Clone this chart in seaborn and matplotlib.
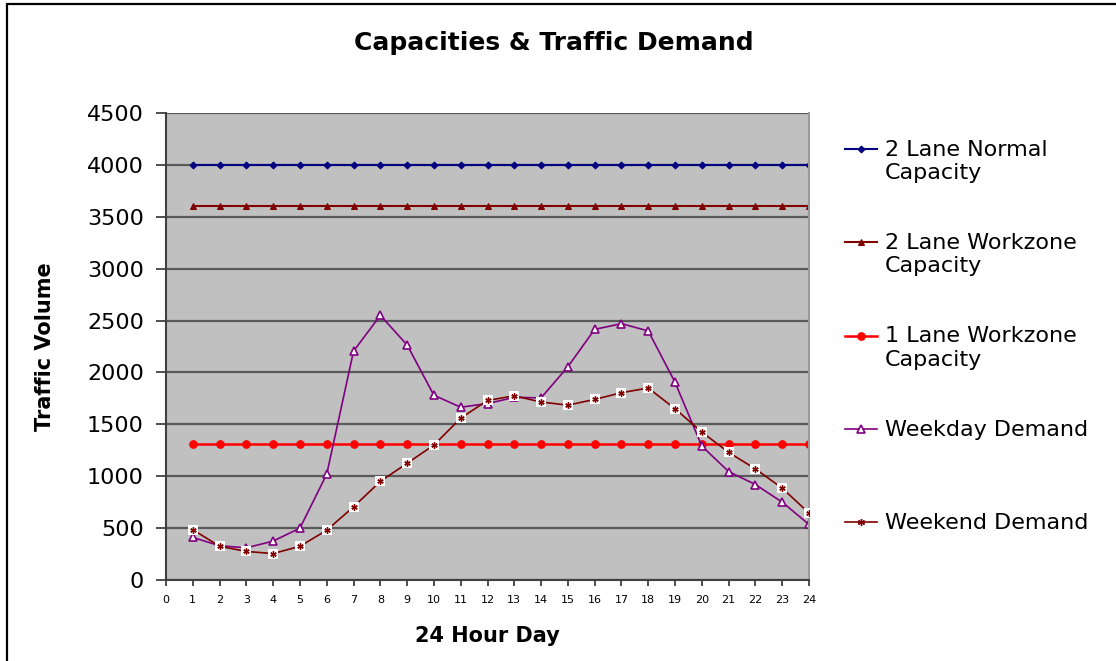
import matplotlib
matplotlib.use('Agg')
import matplotlib.pyplot as plt
import seaborn as sns

hours = [1, 2, 3, 4, 5, 6, 7, 8, 9, 10, 11, 12, 13, 14, 15, 16, 17, 18, 19, 20, 21, 22, 23, 24]
normal_cap = [4000, 4000, 4000, 4000, 4000, 4000, 4000, 4000, 4000, 4000, 4000, 4000,
              4000, 4000, 4000, 4000, 4000, 4000, 4000, 4000, 4000, 4000, 4000, 4000]
two_lane_wz = [3600, 3600, 3600, 3600, 3600, 3600, 3600, 3600, 3600, 3600, 3600, 3600,
               3600, 3600, 3600, 3600, 3600, 3600, 3600, 3600, 3600, 3600, 3600, 3600]
one_lane_wz = [1310, 1310, 1310, 1310, 1310, 1310, 1310, 1310, 1310, 1310, 1310, 1310,
               1310, 1310, 1310, 1310, 1310, 1310, 1310, 1310, 1310, 1310, 1310, 1310]
weekday = [410, 330, 310, 375, 500, 1020, 2205, 2550, 2265, 1780, 1665, 1700,
           1760, 1755, 2055, 2415, 2470, 2400, 1905, 1290, 1045, 920, 750, 535]
weekend = [485, 325, 275, 255, 325, 480, 705, 950, 1125, 1300, 1560, 1730,
           1775, 1715, 1685, 1740, 1805, 1850, 1650, 1425, 1230, 1070, 885, 645]
xticks = list(range(0, 25))
yticks = [0, 500, 1000, 1500, 2000, 2500, 3000, 3500, 4000, 4500]

fig = plt.figure(figsize=(11.16, 6.61), dpi=100)
ax = fig.add_axes([166 / 1116, 1 - 580 / 661, (809 - 166) / 1116, (580 - 113) / 661])
ax.set_facecolor('#c0c0c0')

sns.lineplot(x=hours, y=normal_cap, color='#000080', lw=1.5, marker='D', markersize=3.5,
             markeredgecolor='#000080', label='2 Lane Normal\nCapacity', ax=ax)
sns.lineplot(x=hours, y=two_lane_wz, color='#800000', lw=1.5, marker='^', markersize=5,
             markeredgecolor='#800000', label='2 Lane Workzone\nCapacity', ax=ax)
sns.lineplot(x=hours, y=one_lane_wz, color='#ff0000', lw=1.8, marker='o', markersize=5.5,
             markeredgecolor='#ff0000', label='1 Lane Workzone\nCapacity', ax=ax)
sns.lineplot(x=hours, y=weekday, color='#800080', lw=1.2, marker='^', markersize=5.5,
             markerfacecolor='white', markeredgecolor='#800080', markeredgewidth=1.2,
             label='Weekday Demand\n ', ax=ax)
sns.lineplot(x=hours, y=weekend, color='#800000', lw=1.2, marker=(6, 2, 0), markersize=5,
             markeredgecolor='#800000', markeredgewidth=1.0, label='Weekend Demand', ax=ax)
# white boxes behind the weekend stars
ax.scatter(hours, weekend, marker='s', s=50, color='white', linewidths=0, zorder=3)
ax.plot(hours, weekend, linestyle='', marker=(6, 2, 0), markersize=4.5,
        markeredgecolor='#800000', markeredgewidth=1.0, zorder=4)

ax.set_xlim(0, 24)
ax.set_ylim(0, 4500)
ax.set_xticks(xticks)
ax.set_yticks(yticks)
ax.tick_params(axis='y', labelsize=16, length=7, width=1.3, color='#404040', pad=9)
ax.tick_params(axis='x', labelsize=8, length=4, width=1.3, color='#404040', pad=7)
ax.grid(axis='y', color='#5a5a5a', lw=1.6)
ax.set_axisbelow(True)
for s in ['left', 'bottom']:
    ax.spines[s].set_color('#404040')
    ax.spines[s].set_linewidth(1.5)
ax.spines['right'].set_color('#9a9a9a')
ax.spines['right'].set_linewidth(1.5)
ax.spines['top'].set_visible(False)

ax.set_xlabel('24 Hour Day', fontsize=15, fontweight='bold')
ax.set_ylabel('Traffic Volume', fontsize=15, fontweight='bold')
ax.xaxis.set_label_coords(0.5, -0.0985)
ax.yaxis.set_label_coords(-0.172, 0.5)
fig.suptitle('Capacities & Traffic Demand', x=554 / 1116, y=1 - 43 / 661, va='center',
             fontsize=18, fontweight='bold')

h, l = ax.get_legend_handles_labels()
ax.get_legend().remove()
leg = fig.legend(h, l, loc='upper left', bbox_to_anchor=(845 / 1116, 1 - 140 / 661),
                 frameon=False, fontsize=16, borderpad=0, borderaxespad=0,
                 handlelength=1.45, handletextpad=0.36, handleheight=1.1, labelspacing=2.25)
for col in leg._legend_handle_box.get_children():
    for item in col.get_children():
        item.align = 'top'

border = plt.Rectangle((7 / 1116, -0.1), 1.2, 1.1 - 4 / 661, transform=fig.transFigure,
                       fill=False, edgecolor='black', lw=1.6, clip_on=False)
fig.patches.append(border)

fig.savefig('out.png', dpi=100)
